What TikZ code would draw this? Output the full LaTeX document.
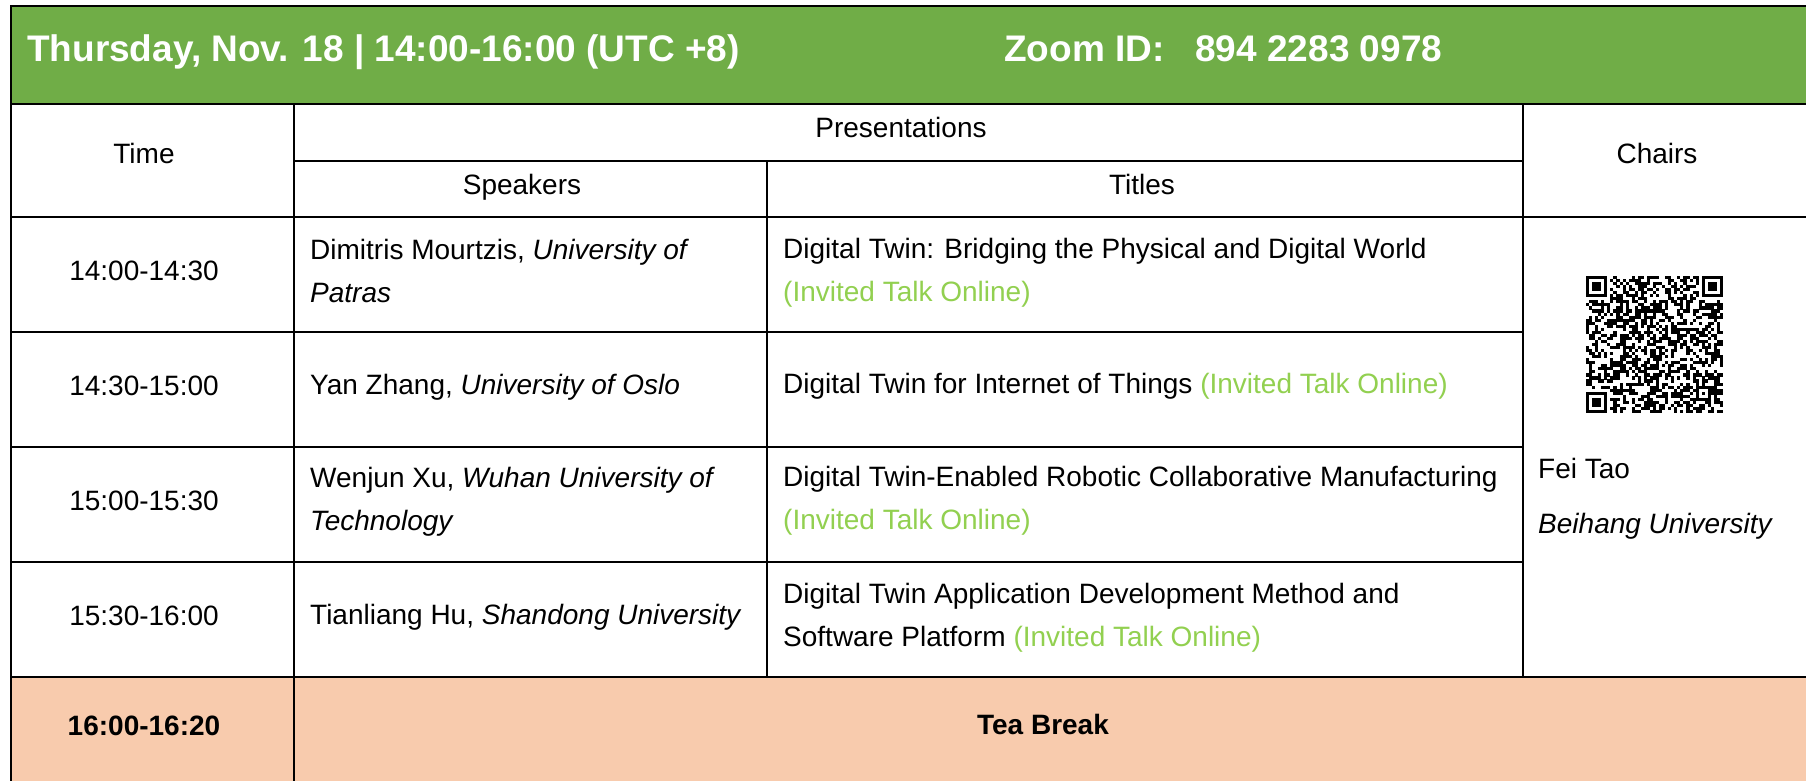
\documentclass[tikz,border=0pt]{standalone}
\usepackage{fontspec}
\setmainfont{Liberation Sans}
\definecolor{hdrgreen}{HTML}{70AD47}
\definecolor{teafill}{HTML}{F8CBAD}
\definecolor{talkgreen}{HTML}{92D050}
\newcommand{\talk}[1]{\textcolor{talkgreen}{#1}}
\newcommand{\cellpair}[2]{\begin{tabular}[t]{@{}l@{}}#1\\#2\end{tabular}}
\begin{document}
\begin{tikzpicture}[x=1pt,y=-1pt,
  rule/.style={line width=2.7pt, line cap=rect},
  hdrtext/.style={font=\fontsize{37}{44}\selectfont\bfseries, text=white, inner sep=0pt, anchor=base west},
  celltext/.style={font=\fontsize{28}{43}\selectfont, inner sep=0pt},
  ctext/.style={celltext, anchor=base},
  ltext/.style={celltext, anchor=base west},
  boldtext/.style={celltext, font=\fontsize{28}{43}\selectfont\bfseries, anchor=base},
  qrmod/.style={fill=black}]
\useasboundingbox (0,0) rectangle (1806,781);
\fill[white] (0,0) rectangle (1806,781);
% fills
\fill[hdrgreen] (11,6) rectangle (1806,104);
\fill[teafill] (11,677) rectangle (1806,781);
% rules
\draw[rule] (11,6) -- (1810,6);
\draw[rule] (11,6) -- (11,785);
\draw[rule] (11,104) -- (1810,104);
\draw[rule] (294,161) -- (1523,161);
\draw[rule] (11,217) -- (1810,217);
\draw[rule] (11,332) -- (1523,332);
\draw[rule] (11,447) -- (1523,447);
\draw[rule] (11,562) -- (1523,562);
\draw[rule] (11,677) -- (1810,677);
\draw[rule] (294,104) -- (294,785);
\draw[rule] (767,161) -- (767,677);
\draw[rule] (1523,104) -- (1523,677);
% header
\node[hdrtext] (title) at (27,62) {Thursday, Nov. 18 | 14:00-16:00 (UTC +8)};
\node[hdrtext] (zoomid) at (1004,62) {Zoom ID:~~~894 2283 0978};
% column heads
\node[ctext] (hTime) at (144,164) {Time};
\node[ctext] (hPres) at (901,137) {Presentations};
\node[ctext] (hSpk) at (522,194) {Speakers};
\node[ctext] (hTit) at (1142,194) {Titles};
\node[ctext] (hChair) at (1657,164) {Chairs};
% times
\node[ctext] (t1) at (144,280) {14:00-14:30};
\node[ctext] (t2) at (144,395) {14:30-15:00};
\node[ctext] (t3) at (144,510) {15:00-15:30};
\node[ctext] (t4) at (144,625) {15:30-16:00};
% speakers
\node[ltext] (s1) at (310,259) {\cellpair{Dimitris Mourtzis, \textit{University of}}{\textit{Patras}}};
\node[ltext] (s2) at (310,394) {Yan Zhang, \textit{University of Oslo}};
\node[ltext] (s3) at (310,487) {\cellpair{Wenjun Xu, \textit{Wuhan University of}}{\textit{Technology}}};
\node[ltext] (s4) at (310,624) {Tianliang Hu, \textit{Shandong University}};
% titles
\node[ltext] (p1) at (783,258) {\cellpair{Digital Twin: Bridging the Physical and Digital World}{\talk{(Invited Talk Online)}}};
\node[ltext] (p2) at (783,393) {Digital Twin for Internet of Things \talk{(Invited Talk Online)}};
\node[ltext] (p3) at (783,486) {\cellpair{Digital Twin-Enabled Robotic Collaborative Manufacturing}{\talk{(Invited Talk Online)}}};
\node[ltext] (p4) at (783,603) {\cellpair{Digital Twin Application Development Method and}{Software Platform \talk{(Invited Talk Online)}}};
% chair
\node[ltext] (chairname) at (1538,478) {Fei Tao};
\node[ltext] (chairaff) at (1538,533) {\textit{Beihang University}};
% QR code
\begin{scope}
\pgfmathsetseed{20211118}
\foreach \i in {0,...,44}{
  \foreach \j in {0,...,44}{
    \pgfmathrandominteger{\qrbit}{0}{1}
    \ifnum\qrbit=1 \fill[qrmod] (1586+\i*3.044,276+\j*3.044) rectangle ++(3.1,3.1);\fi
  }
}
\foreach \fx/\fy in {0/0,37/0,0/37}{
  \fill[white] (1586+\fx*3.044,276+\fy*3.044) rectangle ++(8*3.044,8*3.044);
}
\foreach \fx/\fy in {0/0,38/0,0/38}{
  \fill[black] (1586+\fx*3.044,276+\fy*3.044) rectangle ++(7*3.044,7*3.044);
  \fill[white] (1586+\fx*3.044+3.044,276+\fy*3.044+3.044) rectangle ++(5*3.044,5*3.044);
  \fill[black] (1586+\fx*3.044+2*3.044,276+\fy*3.044+2*3.044) rectangle ++(3*3.044,3*3.044);
}
\fill[black] (1586+36*3.044,276+36*3.044) rectangle ++(5*3.044,5*3.044);
\fill[white] (1586+37*3.044,276+37*3.044) rectangle ++(3*3.044,3*3.044);
\fill[black] (1586+38*3.044,276+38*3.044) rectangle ++(3.044,3.044);
\end{scope}
% tea break
\node[boldtext] (teatime) at (144,735) {16:00-16:20};
\node[boldtext] (tea) at (1043,734) {Tea Break};
\end{tikzpicture}
\end{document}
